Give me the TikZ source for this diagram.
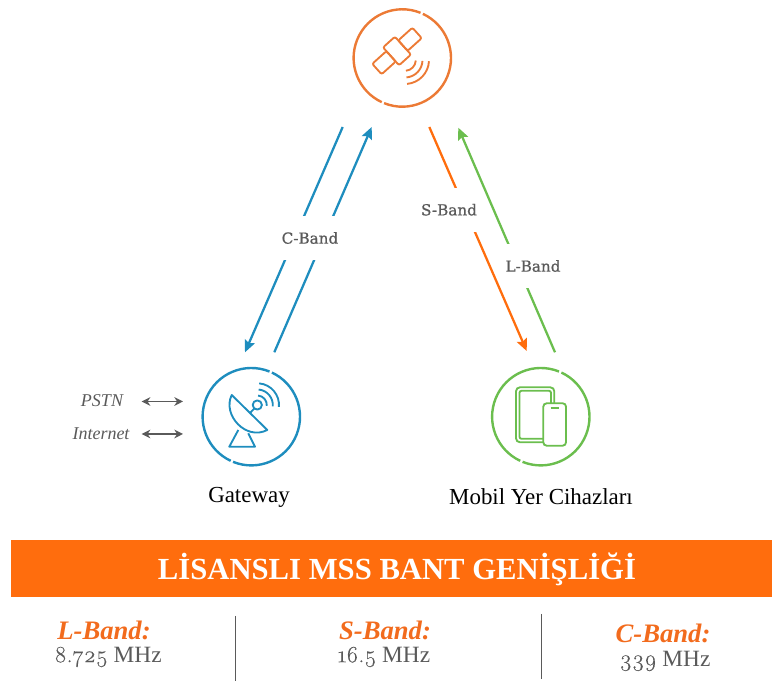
\documentclass[tikz,border=0pt]{standalone}
\usepackage{fontspec}
\usepackage{xcolor}
\usepackage{tikz}
\usetikzlibrary{arrows.meta}
\setmainfont{Liberation Serif}
\newfontfamily\slabfont[FakeBold=0.7]{DejaVu Serif}
\newfontfamily\oldnum[Numbers=OldStyle,FakeBold=0.25]{Latin Modern Roman}
\definecolor{bandorange}{HTML}{FF6D0D}
\definecolor{satorange}{HTML}{EC7A35}
\definecolor{headorange}{HTML}{F26B1D}
\definecolor{gwblue}{HTML}{1E8DBE}
\definecolor{mobgreen}{HTML}{6BBE4E}
\definecolor{txtgray}{HTML}{5A5A5A}
\newcommand{\gapring}[1]{%
    \draw (#1) ++(68:48.7) arc[start angle=68,end angle=245,radius=48.7];
    \draw (#1) ++(248:48.7) arc[start angle=248,end angle=425,radius=48.7];
}

\begin{document}
\begin{tikzpicture}[x=0.75pt,y=0.75pt]
\useasboundingbox (0,0) rectangle (772,681);
\tikzset{
    radio/.style={draw=#1,line width=1.7pt,>={Stealth[length=9pt,width=8pt,inset=1.5pt]}},
    bandlabel/.style={fill=white,inner sep=0pt,minimum height=33pt,text=txtgray,font=\fontsize{11.4}{13}\slabfont},
    hubname/.style={font=\fontsize{17.2}{20}\selectfont},
    sidelabel/.style={text=txtgray,font=\fontsize{13.5}{16}\selectfont\itshape},
    amounthead/.style={text=headorange,font=\fontsize{20}{23}\selectfont\bfseries\itshape},
    amount/.style={text=txtgray,font=\fontsize{17.5}{20}\selectfont},
    amountsep/.style={draw=txtgray,line width=0.7pt},
    twoway/.style={draw=txtgray,line width=1.2pt,{Stealth[length=6.5pt,width=6.5pt]}-{Stealth[length=6.5pt,width=6.5pt]}}
}
% hubs
\begin{scope}[every node/.style={circle,minimum size=73pt,inner sep=0pt}]
    \node (sat) at (402.3,623) {};
    \node (gw) at (251.3,264.3) {};
    \node (mob) at (540.8,264.3) {};
\end{scope}
\begin{scope}[line width=1.8pt]
    \begin{scope}[draw=satorange] \gapring{sat} \end{scope}
    \begin{scope}[draw=gwblue] \gapring{gw} \end{scope}
    \begin{scope}[draw=mobgreen] \gapring{mob} \end{scope}
\end{scope}
\node[hubname] (gwname) at (249,184) {Gateway};
\node[hubname] (mobname) at (541,184) {Mobil Yer Cihazları};

% satellite
\begin{scope}[shift={(397,630)},rotate=42,draw=satorange,line width=1.4pt,rounded corners=1.5pt]
    \draw (-27,-7) rectangle (-8,7);
    \draw (-8,-12) rectangle (8,12);
    \draw (8,-7) rectangle (27,7);
\end{scope}
\begin{scope}[shift={(405,621)},draw=satorange,line width=1.4pt]
    \draw (-85:10.8) arc[start angle=-85,end angle=-3,radius=10.8];
    \draw (-85:17.5) arc[start angle=-85,end angle=-3,radius=17.5];
    \draw (-85:24) arc[start angle=-85,end angle=-3,radius=24];
\end{scope}

% dish
\begin{scope}[draw=gwblue,line width=1.4pt,line join=round]
    \draw (231.7,286) -- (267.3,251) .. controls (246,240) and (222,266) .. cycle;
    \draw (250,268) -- (254.3,272.5);
    \draw (257.3,276) circle (4.6);
    \draw (238.3,251) -- (229.3,234.3) -- (255,234.3) -- (248.3,247.7);
    \begin{scope}[shift={(257.3,276)}]
        \draw (85:9.5) arc[start angle=85,end angle=-5,radius=9.5];
        \draw (85:15.5) arc[start angle=85,end angle=-5,radius=15.5];
        \draw (85:21.7) arc[start angle=85,end angle=-5,radius=21.7];
    \end{scope}
\end{scope}

% tablet and phone
\begin{scope}[draw=mobgreen,line width=1.4pt]
    \draw[rounded corners=3pt] (516,293.7) rectangle (554.3,238.7);
    \draw[rounded corners=1.5pt] (519.5,290.2) rectangle (551,242.2);
    \draw[rounded corners=2.5pt,fill=white] (543.3,277.7) rectangle (566,235.3);
    \draw (550.7,272.7) -- (559.3,272.7);
\end{scope}

% links
\coordinate (c1) at (342.7,554);
\coordinate (c2) at (245,328.7);
\coordinate (c3) at (274.3,328.7);
\coordinate (c4) at (371.7,554);
\coordinate (s1) at (429.3,554);
\coordinate (s2) at (526.7,330);
\coordinate (l1) at (555,328.7);
\coordinate (l2) at (458.3,553.3);
\draw[radio=gwblue,->] (c1) -- (c2);
\draw[radio=gwblue,->] (c3) -- (c4);
\draw[radio=bandorange,->] (s1) -- (s2);
\draw[radio=mobgreen,->] (l1) -- (l2);
\node[bandlabel,minimum width=45pt] (cband) at (310,443) {C-Band};
\node[bandlabel,minimum width=42pt] (sband) at (449,471.3) {S-Band};
\node[bandlabel,minimum width=45pt] (lband) at (533,415) {L-Band};

% terrestrial side
\node[sidelabel] (pstn) at (102,280) {PSTN};
\node[sidelabel] (inet) at (101,247) {Internet};
\coordinate (p1) at (141.7,279.5);
\coordinate (p2) at (183,279.5);
\coordinate (i1) at (141.7,247);
\coordinate (i2) at (183,247);
\draw[twoway] (p1) -- (p2);
\draw[twoway] (i1) -- (i2);

% spectrum table
\fill[bandorange] (11,84) rectangle (772,141);
\node[text=white,font=\fontsize{23}{26}\selectfont\bfseries] (title) at (397,112) {LİSANSLI MSS BANT GENİŞLİĞİ};
\node[amounthead] (lhead) at (104,51) {L-Band:};
\node[amount] (lval) at (108,24) {{\oldnum 8.725} MHz};
\node[amounthead] (shead) at (385,51) {S-Band:};
\node[amount] (sval) at (384,24) {{\oldnum 16.5} MHz};
\node[amounthead] (chead) at (663,48) {C-Band:};
\node[amount] (cval) at (665,20) {{\oldnum 339} MHz};
\draw[amountsep] (235,65) -- (235,0);
\draw[amountsep] (541,67) -- (541,2);
\end{tikzpicture}
\end{document}
